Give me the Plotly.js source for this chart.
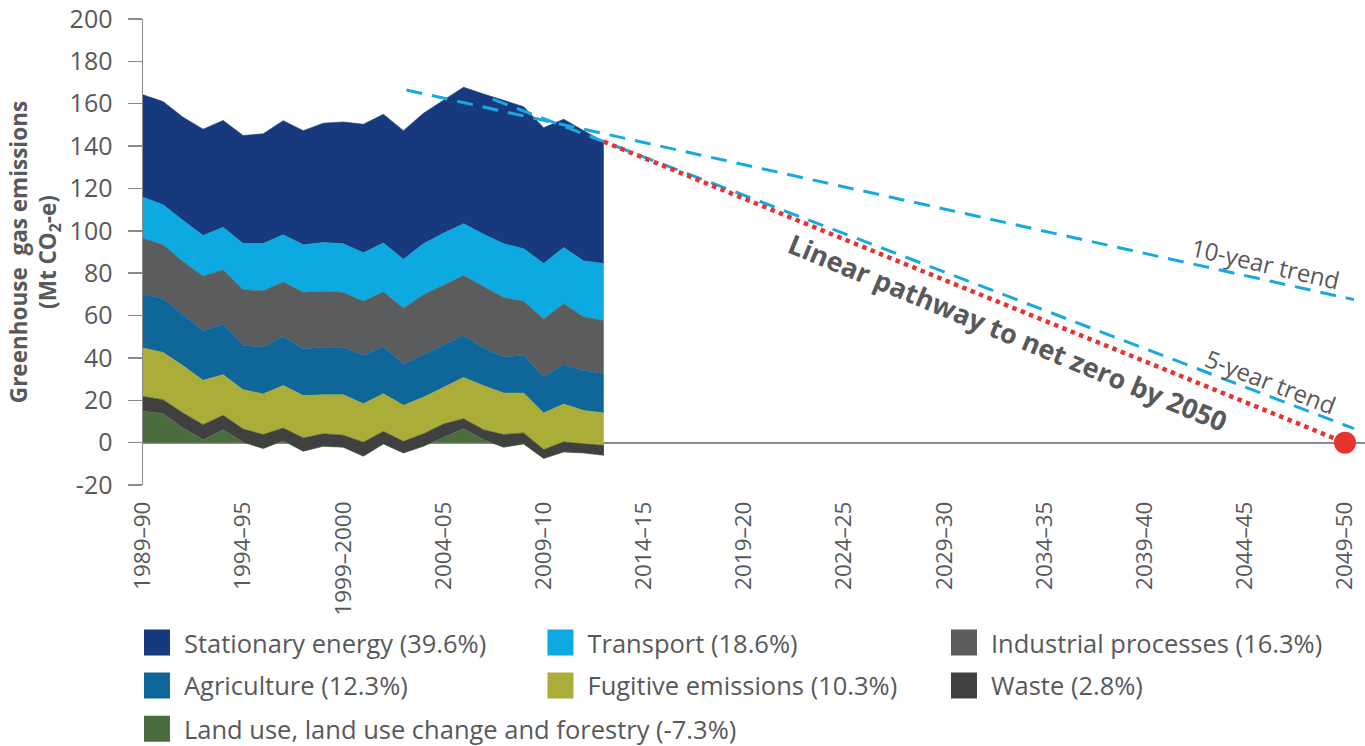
<!DOCTYPE html>
<html>
<head>
<meta charset="utf-8">
<script src="https://cdn.plot.ly/plotly-3.0.1.min.js"></script>
<style>
html, body { margin: 0; padding: 0; background: #ffffff; }
#chart { width: 1365px; height: 746px; }
</style>
</head>
<body>
<div id="chart"></div>
<script>
// Financial years (start year of each financial year), 1989–90 to 2012–13
const yearStarts = [1989, 1990, 1991, 1992, 1993, 1994, 1995, 1996, 1997, 1998, 1999, 2000,
                    2001, 2002, 2003, 2004, 2005, 2006, 2007, 2008, 2009, 2010, 2011, 2012];

// Emissions by sector, Mt CO2-e
const lulucf      = [14.8, 13.7, 6.9, 1.4, 6.1, 0.2, -2.8, 0.9, -4.1, -1.7, -2.2, -6.4,
                     -0.6, -4.9, -1.7, 2.5, 6.6, 1.4, -2.2, -0.6, -7.5, -4.4, -4.9, -6.0];
const waste       = [7.0, 6.6, 7.1, 7.1, 6.8, 6.2, 6.6, 6.0, 6.3, 5.9, 5.7, 6.6,
                     5.9, 5.5, 5.9, 6.3, 4.7, 4.7, 6.0, 5.2, 4.2, 4.7, 4.3, 4.7];
const fugitive    = [22.9, 22.3, 22.3, 20.9, 19.2, 18.6, 19.2, 20.1, 20.0, 18.4, 19.1, 18.2,
                     17.8, 17.0, 17.2, 17.3, 19.5, 20.8, 19.6, 18.8, 17.3, 17.9, 15.8, 15.3];
const agriculture = [25.4, 25.3, 24.1, 23.4, 23.9, 20.8, 22.1, 23.1, 22.1, 22.4, 22.4, 22.9,
                     22.3, 19.5, 20.1, 20.1, 19.8, 17.8, 17.0, 17.8, 17.0, 18.6, 18.9, 18.5];
const industrial  = [26.4, 25.5, 25.1, 25.8, 25.6, 26.4, 26.6, 25.7, 26.7, 26.5, 25.9, 25.4,
                     25.8, 26.4, 28.3, 28.3, 28.3, 29.0, 28.1, 25.5, 27.4, 28.8, 25.2, 25.2];
const transport   = [19.4, 18.9, 19.4, 19.2, 20.1, 21.8, 22.3, 22.3, 22.4, 23.0, 23.0, 22.9,
                     23.0, 23.1, 24.1, 24.4, 24.4, 24.7, 25.4, 24.8, 26.2, 26.5, 26.5, 26.9];
const stationary  = [48.3, 48.7, 48.7, 50.2, 50.4, 51.0, 51.8, 53.9, 53.9, 56.3, 57.5, 60.7,
                     60.8, 60.7, 61.6, 62.9, 64.5, 66.2, 67.6, 67.1, 64.1, 60.6, 61.5, 57.5];

// Sector names (legend labels)
const sectorNames = {
  stationary: 'Stationary energy (39.6%)',
  transport: 'Transport (18.6%)',
  industrial: 'Industrial processes (16.3%)',
  agriculture: 'Agriculture (12.3%)',
  fugitive: 'Fugitive emissions (10.3%)',
  waste: 'Waste (2.8%)',
  lulucf: 'Land use, land use change and forestry (-7.3%)'
};

// Trend lines and pathway (x = financial-year start)
const trend10X = [2002.15, 2049.45];
const trend10Y = [166.5, 67.5];
const trend5X  = [2006.45, 2049.45];
const trend5Y  = [162.2, 6.6];
const pathwayX = [2012, 2049];
const pathwayY = [142.1, 0];
const netZeroX = [2049];
const netZeroY = [0];

// Axis ticks
const tickYears  = [1989, 1994, 1999, 2004, 2009, 2014, 2019, 2024, 2029, 2034, 2039, 2044, 2049];
const tickLabels = ['1989–90', '1994–95', '1999–2000', '2004–05', '2009–10', '2014–15', '2019–20',
                    '2024–25', '2029–30', '2034–35', '2039–40', '2044–45', '2049–50'];
const yTickVals  = [-20, 0, 20, 40, 60, 80, 100, 120, 140, 160, 180, 200];
const yTickText  = ['-20', '0', '20', '40', '60', '80', '100', '120', '140', '160', '180', '200'];

const colors = {
  stationary: '#163a7d',
  transport: '#0caae1',
  industrial: '#5b5c5e',
  agriculture: '#0e6699',
  fugitive: '#aaae39',
  waste: '#404041',
  lulucf: '#4b6d3e'
};
const textGrey = '#58595b';
const axisGrey = '#8a8a8a';
const trendBlue = '#19a9e1';
const pathRed = '#e8322e';
const FONT = '"Open Sans", sans-serif';

function area(key, values, legendId) {
  return {
    type: 'scatter', mode: 'lines', x: yearStarts, y: values,
    name: sectorNames[key], stackgroup: 'sectors',
    line: { color: colors[key], width: 0.6, shape: 'linear' },
    fillcolor: colors[key], legend: legendId, hoverinfo: 'skip'
  };
}

const traces = [
  area('lulucf', lulucf, 'legend3'),
  area('waste', waste, 'legend2'),
  area('fugitive', fugitive, 'legend2'),
  area('agriculture', agriculture, 'legend2'),
  area('industrial', industrial, 'legend'),
  area('transport', transport, 'legend'),
  area('stationary', stationary, 'legend'),
  { type: 'scatter', mode: 'lines', x: trend10X, y: trend10Y, showlegend: false, hoverinfo: 'skip',
    line: { color: trendBlue, width: 3, dash: '16px,10px' } },
  { type: 'scatter', mode: 'lines', x: trend5X, y: trend5Y, showlegend: false, hoverinfo: 'skip',
    line: { color: trendBlue, width: 3, dash: '16px,10px' } },
  { type: 'scatter', mode: 'lines', x: pathwayX, y: pathwayY, showlegend: false, hoverinfo: 'skip',
    line: { color: pathRed, width: 4.5, dash: '4.5px,4.5px' } },
  { type: 'scatter', mode: 'markers', x: netZeroX, y: netZeroY, showlegend: false, hoverinfo: 'skip',
    cliponaxis: false, marker: { color: pathRed, size: 22 } }
];

const legendBase = {
  orientation: 'h', xref: 'paper', yref: 'paper', x: 0.0008, xanchor: 'left', yanchor: 'middle',
  traceorder: 'reversed',
  bgcolor: 'rgba(0,0,0,0)', borderwidth: 0,
  font: { family: FONT, size: 25.5, color: textGrey }
};
const colLegend = { entrywidth: 358.5, entrywidthmode: 'pixels' };

const layout = {
  width: 1365, height: 746,
  margin: { l: 143, r: 0, t: 19, b: 261, autoexpand: false },
  paper_bgcolor: '#ffffff', plot_bgcolor: '#ffffff',
  font: { family: FONT, color: textGrey },
  showlegend: true,
  legend:  Object.assign({}, legendBase, colLegend, { y: -0.339 }),
  legend2: Object.assign({}, legendBase, colLegend, { y: -0.431 }),
  legend3: Object.assign({}, legendBase, { y: -0.524 }),
  xaxis: {
    type: 'linear', range: [1989, 2050], showgrid: false, zeroline: false, showline: false,
    ticks: '', tickmode: 'array', tickvals: tickYears, ticktext: tickLabels, tickangle: -90,
    ticklabelstandoff: 11,
    tickfont: { family: FONT, size: 22.5, color: textGrey }
  },
  yaxis: {
    range: [-20, 200], showgrid: false, zeroline: true, zerolinecolor: axisGrey, zerolinewidth: 2,
    showline: true, linecolor: axisGrey, linewidth: 1.5,
    ticks: 'outside', ticklen: 14, tickwidth: 1.5, tickcolor: axisGrey,
    tickmode: 'array', tickvals: yTickVals, ticktext: yTickText, ticklabelstandoff: 10,
    tickfont: { family: FONT, size: 25, color: textGrey },
    title: {
      text: '<b>Greenhouse  gas emissions<br>(Mt CO<sub>2</sub>-e)</b>',
      font: { family: FONT, size: 22.5, color: textGrey }, standoff: 6
    }
  },
  annotations: [
    { xref: 'x', yref: 'y', x: 2032.2, y: 51.9, text: '<b>Linear pathway to net zero by 2050</b>',
      showarrow: false, textangle: 22.5, font: { family: FONT, size: 27, color: textGrey } },
    { xref: 'x', yref: 'y', x: 2045.05, y: 84.7, text: '10-year trend',
      showarrow: false, textangle: 13, font: { family: FONT, size: 24, color: textGrey } },
    { xref: 'x', yref: 'y', x: 2045.3, y: 28.9, text: '5-year trend',
      showarrow: false, textangle: 21, font: { family: FONT, size: 24, color: textGrey } }
  ],
  hovermode: false
};

Plotly.newPlot('chart', traces, layout, { staticPlot: true, displayModeBar: false }).then(function () {
  // Square colour swatches in the legend, as in the original
  document.querySelectorAll('.infolayer g.traces').forEach(function (g) {
    var fill = g.querySelector('path.js-fill');
    if (fill) fill.setAttribute('d', 'M0,-13h26v26h-26z');
    g.querySelectorAll('path.js-line').forEach(function (l) { l.style.display = 'none'; });
  });
});
</script>
</body>
</html>
